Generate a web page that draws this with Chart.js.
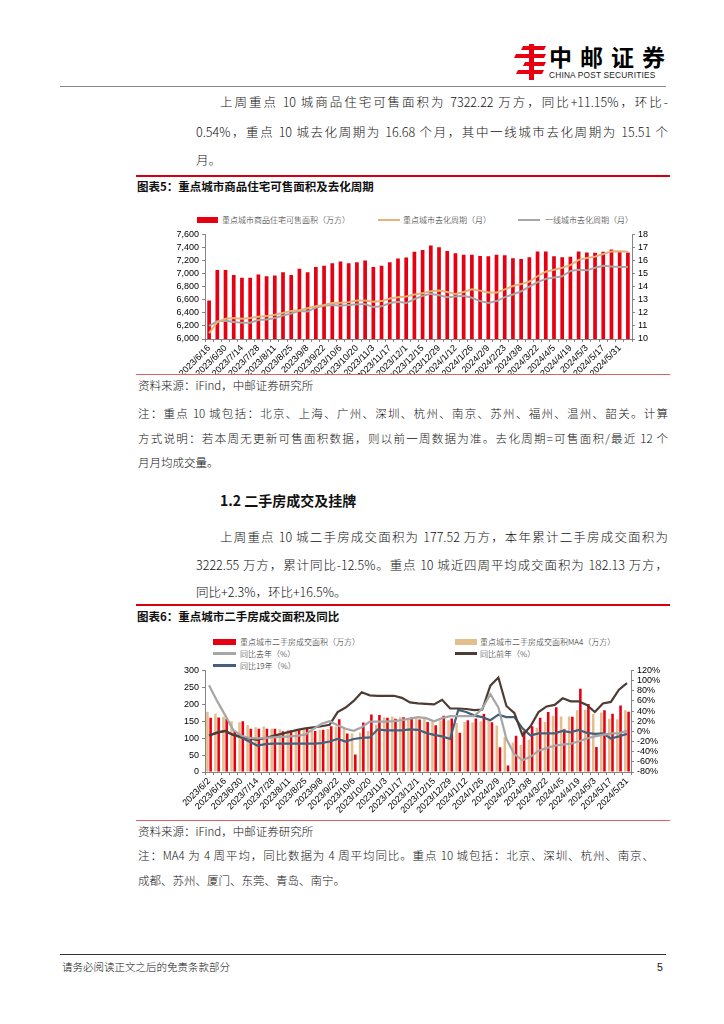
<!DOCTYPE html>
<html>
<head>
<meta charset="utf-8">
<script src="https://cdn.jsdelivr.net/npm/chart.js@4.4.1/dist/chart.umd.min.js"></script>
<style>
body { margin:0; width:724px; height:1024px; background:#fff; position:relative; overflow:hidden;
  font-family:"Noto Sans CJK SC","Noto Sans",sans-serif; color:#111; }
.t { position:absolute; white-space:nowrap; font-size:12.5px; line-height:18px; font-weight:300; }
.j { text-align:justify; text-align-last:justify; }
.num { font-family:"Liberation Sans","Noto Sans CJK SC",sans-serif; }
.hr { position:absolute; }
.lg { position:absolute; font-size:8px; line-height:10px; white-space:nowrap; color:#222; font-weight:300; }
.sw { position:absolute; }
canvas { position:absolute; }
</style>
</head>
<body>

<!-- header -->
<svg style="position:absolute;left:513px;top:44px" width="34" height="36" viewBox="0 0 34 36">
  <g fill="#e60012">
    <polygon points="10,2 33,2 31,6 8,6"/>
    <polygon points="3,10 33,10 31,14 1,14"/>
    <polygon points="12,18 33,18 31,22 10,22"/>
    <polygon points="5,26 31,26 29,30 3,30"/>
    <rect x="16" y="0" width="5" height="36"/>
  </g>
</svg>
<div class="t" style="left:549px;top:43px;font-size:23px;line-height:27px;font-weight:700;letter-spacing:8px;color:#000">中邮证券</div>
<div class="t" style="left:549px;top:70px;font-size:8.3px;line-height:10px;font-family:'Liberation Sans';font-weight:400;letter-spacing:0.2px;color:#222">CHINA POST SECURITIES</div>
<div class="hr" style="left:60px;top:86px;width:606px;height:1px;background:#888"></div>

<!-- paragraph 1 -->
<div class="t j" style="left:220px;top:93px;width:448px">上周重点 10 城商品住宅可售面积为 7322.22 万方，同比+11.15%，环比-</div>
<div class="t j" style="left:196px;top:123px;width:472px">0.54%，重点 10 城去化周期为 16.68 个月，其中一线城市去化周期为 15.51 个</div>
<div class="t" style="left:196px;top:151px">月。</div>

<!-- figure 5 -->
<div class="hr" style="left:136px;top:175px;width:534px;height:2px;background:#d7000f"></div>
<div class="t" style="left:137px;top:177px;font-size:11.5px;font-weight:700">图表5：重点城市商品住宅可售面积及去化周期</div>

<div class="sw" style="left:197px;top:217px;width:21px;height:6px;background:#e60012"></div>
<div class="lg" style="left:222px;top:215px">重点城市商品住宅可售面积（万方）</div>
<div class="sw" style="left:378px;top:219px;width:22px;height:2px;background:#e3b47a"></div>
<div class="lg" style="left:403px;top:215px">重点城市去化周期（月）</div>
<div class="sw" style="left:518px;top:219px;width:22px;height:2px;background:#a6a6a6"></div>
<div class="lg" style="left:545px;top:215px">一线城市去化周期（月）</div>

<canvas id="chart1" width="530" height="148" style="left:140px;top:226px;width:530px;height:148px"></canvas>

<div class="hr" style="left:136px;top:374px;width:534px;height:1px;background:#e06060"></div>
<div class="t" style="left:138px;top:376px;font-size:11.5px">资料来源：iFind，中邮证券研究所</div>
<div class="t j" style="left:138px;top:404px;width:530px;font-size:11.5px">注：重点 10 城包括：北京、上海、广州、深圳、杭州、南京、苏州、福州、温州、韶关。计算</div>
<div class="t j" style="left:138px;top:429px;width:530px;font-size:11.5px">方式说明：若本周无更新可售面积数据，则以前一周数据为准。去化周期=可售面积/最近 12 个</div>
<div class="t" style="left:138px;top:453px;font-size:11.5px">月月均成交量。</div>

<!-- section 1.2 -->
<div class="t" style="left:220px;top:490px;font-size:14px;line-height:20px;font-weight:700">1.2 二手房成交及挂牌</div>
<div class="t j" style="left:220px;top:528px;width:448px">上周重点 10 城二手房成交面积为 177.52 万方，本年累计二手房成交面积为</div>
<div class="t j" style="left:196px;top:556px;width:472px">3222.55 万方，累计同比-12.5%。重点 10 城近四周平均成交面积为 182.13 万方，</div>
<div class="t" style="left:196px;top:583px">同比+2.3%，环比+16.5%。</div>

<!-- figure 6 -->
<div class="hr" style="left:136px;top:604px;width:534px;height:2px;background:#d7000f"></div>
<div class="t" style="left:137px;top:607px;font-size:11.5px;font-weight:700">图表6：重点城市二手房成交面积及同比</div>

<div class="sw" style="left:213px;top:639px;width:23px;height:6px;background:#e60012"></div>
<div class="lg" style="left:240px;top:637px">重点城市二手房成交面积（万方）</div>
<div class="sw" style="left:455px;top:639px;width:22px;height:6px;background:#e3bf8e"></div>
<div class="lg" style="left:480px;top:637px">重点城市二手房成交面积MA4（万方）</div>
<div class="sw" style="left:213px;top:652px;width:23px;height:2.5px;background:#a6a6a6"></div>
<div class="lg" style="left:240px;top:649px">同比去年（%）</div>
<div class="sw" style="left:455px;top:652px;width:22px;height:2.5px;background:#4e3b33"></div>
<div class="lg" style="left:480px;top:649px">同比前年（%）</div>
<div class="sw" style="left:213px;top:664px;width:23px;height:2.5px;background:#44607a"></div>
<div class="lg" style="left:240px;top:661px">同比19年（%）</div>

<canvas id="chart2" width="530" height="155" style="left:140px;top:662px;width:530px;height:155px"></canvas>

<div class="hr" style="left:136px;top:820px;width:534px;height:1px;background:#e06060"></div>
<div class="t" style="left:138px;top:822px;font-size:11.5px">资料来源：iFind，中邮证券研究所</div>
<div class="t j" style="left:138px;top:846px;width:516px;font-size:11.5px">注：MA4 为 4 周平均，同比数据为 4 周平均同比。重点 10 城包括：北京、深圳、杭州、南京、</div>
<div class="t" style="left:138px;top:871px;font-size:11.5px">成都、苏州、厦门、东莞、青岛、南宁。</div>

<!-- footer -->
<div class="hr" style="left:60px;top:954px;width:606px;height:1px;background:#333"></div>
<div class="t" style="left:62px;top:958px;font-size:10.5px">请务必阅读正文之后的免责条款部分</div>
<div class="t num" style="left:657px;top:958px;font-size:10.5px;font-weight:400">5</div>

<script>
// 图表5 数据
const weeks5 = ['2023/6/16','2023/6/23','2023/6/30','2023/7/7','2023/7/14','2023/7/21','2023/7/28','2023/8/4',
  '2023/8/11','2023/8/18','2023/8/25','2023/9/1','2023/9/8','2023/9/15','2023/9/22','2023/9/29','2023/10/6',
  '2023/10/13','2023/10/20','2023/10/27','2023/11/3','2023/11/10','2023/11/17','2023/11/24','2023/12/1',
  '2023/12/8','2023/12/15','2023/12/22','2023/12/29','2024/1/5','2024/1/12','2024/1/19','2024/1/26','2024/2/2',
  '2024/2/9','2024/2/16','2024/2/23','2024/3/1','2024/3/8','2024/3/15','2024/3/22','2024/3/29','2024/4/5',
  '2024/4/12','2024/4/19','2024/4/26','2024/5/3','2024/5/10','2024/5/17','2024/5/24','2024/5/31','2024/6/7'];
const saleableArea = [6590,7055,7055,6980,6935,6935,6985,6960,6970,7020,6980,7075,7020,7100,7120,7160,7185,
  7160,7175,7200,7100,7120,7175,7230,7245,7335,7360,7430,7405,7345,7310,7290,7290,7270,7265,7290,7280,7235,
  7225,7250,7340,7340,7265,7250,7260,7340,7325,7320,7335,7370,7330,7322];
const keyCityCycle = [10.45,11.3,11.55,11.6,11.55,11.6,11.7,11.75,11.85,12.0,12.15,12.2,12.35,12.5,12.6,12.75,
  12.78,12.82,12.95,12.95,12.85,12.9,13.1,13.2,13.25,13.4,13.5,13.65,13.7,13.6,13.45,13.6,13.8,13.7,13.55,13.55,
  13.8,14.05,14.2,14.4,14.8,15.15,15.3,15.45,15.65,16.05,16.2,16.3,16.5,16.7,16.72,16.68];
const tier1Cycle = [11.0,11.35,11.4,11.3,11.25,11.25,11.45,11.5,11.6,11.8,11.95,12.15,12.1,12.4,12.55,12.6,
  12.55,12.6,12.65,12.65,12.45,12.5,12.75,12.85,12.75,13.05,13.3,13.45,13.35,13.2,13.25,13.3,13.15,12.9,12.75,
  12.9,13.2,13.4,13.65,14.0,14.35,14.6,14.7,14.8,15.2,15.3,15.25,15.45,15.6,15.55,15.5,15.51];

// 图表6 数据
const weeks6 = ['2023/6/2','2023/6/9'].concat(weeks5.slice(0, 51));
const resaleArea = [160,161,157,120,150,128,128,128,128,120,123,125,127,121,125,135,156,114,52,146,170,168,
  160,157,162,162,155,148,138,166,158,116,153,158,171,147,73,19,107,120,135,160,177,191,126,163,246,201,74,
  182,172,196,178];
const resaleMA4 = [178,172,163,150,147,139,132,134,128,126,125,124,124,124,125,127,134,133,114,117,121,140,
  161,164,162,160,159,157,151,152,153,145,148,146,150,157,137,103,87,80,95,131,148,166,164,164,182,184,171,
  176,157,156,182];
const yoyLastYear = [91,60,32,3,-8,-13,-14,-13,-12,-11,-10,-9,-6,5,15,20,12,5,1,8,19,19,19,20,22,25,28,26,
  20,26,30,30,30,30,45,73,47,-15,-45,-57,-50,-38,-33,-28,-26,-24,-20,-14,-10,-7,-4,-4,1];
const yoyTwoYears = [-8,-3,1,-7,-10,-14,-17,-13,-9,-5,-1,3,6,8,10,13,38,47,60,77,71,70,70,70,66,57,55,54,
  53,62,45,45,44,42,43,90,106,50,36,-8,10,38,49,52,65,59,59,52,38,55,58,82,95];
const yoy2019 = [-8,-2,1,-7,-12,-20,-28,-25,-24,-24,-24,-24,-24,-24,-23,-20,-15,-20,-15,-13,-12,4,2,2,2,4,
  3,-3,-7,-10,-15,42,38,31,28,22,33,28,28,6,-8,-4,-4,-4,1,-2,3,-3,-5,-4,-14,-10,-5];

Chart.defaults.font.family = '"Liberation Sans", Arial, sans-serif';
Chart.defaults.font.size = 9;
Chart.defaults.color = '#000';

function axisGrid() {
    return { display: true, drawOnChartArea: false, drawTicks: true, tickLength: 3, color: '#666', lineWidth: 0.8 };
}
function axisBorder() {
    return { display: true, color: '#666', width: 0.8 };
}
function everyOther(start) {
    return function (v, i) { return i % 2 === start ? this.getLabelForValue(v) : ''; };
}

new Chart(document.getElementById('chart1').getContext('2d'), {
    type: 'bar',
    data: {
        labels: weeks5,
        datasets: [
            { type: 'line', label: '重点城市去化周期（月）', data: keyCityCycle, yAxisID: 'y1',
              borderColor: '#e3b47a', borderWidth: 2, pointRadius: 0, tension: 0, order: 1 },
            { type: 'line', label: '一线城市去化周期（月）', data: tier1Cycle, yAxisID: 'y1',
              borderColor: '#a6a6a6', borderWidth: 2, pointRadius: 0, tension: 0, order: 1 },
            { label: '重点城市商品住宅可售面积（万方）', data: saleableArea, yAxisID: 'y',
              backgroundColor: '#e60012', barPercentage: 0.45, categoryPercentage: 1, order: 2 },
        ],
    },
    options: {
        responsive: false,
        animation: false,
        layout: { padding: { top: 6 } },
        plugins: { legend: { display: false }, tooltip: { enabled: false } },
        scales: {
            x: {
                grid: axisGrid(), border: axisBorder(),
                ticks: { autoSkip: false, minRotation: 45, maxRotation: 45, padding: 1, callback: everyOther(0) },
                afterFit: function (s) { s.height = 35; },
            },
            y: {
                position: 'left', min: 6000, max: 7600,
                grid: axisGrid(), border: axisBorder(),
                ticks: { stepSize: 200, autoSkip: false, padding: 3, callback: v => v.toLocaleString('en-US') },
                afterFit: function (s) { s.width = 65; },
            },
            y1: {
                position: 'right', min: 10, max: 18,
                grid: axisGrid(), border: axisBorder(),
                ticks: { stepSize: 1, autoSkip: false, padding: 3 },
                afterFit: function (s) { s.width = 38; },
            },
        },
    },
});

new Chart(document.getElementById('chart2').getContext('2d'), {
    type: 'bar',
    data: {
        labels: weeks6,
        datasets: [
            { type: 'line', label: '同比去年（%）', data: yoyLastYear, yAxisID: 'y1',
              borderColor: '#a6a6a6', borderWidth: 2.2, pointRadius: 0, tension: 0, order: 1 },
            { type: 'line', label: '同比前年（%）', data: yoyTwoYears, yAxisID: 'y1',
              borderColor: '#4e3b33', borderWidth: 2.2, pointRadius: 0, tension: 0, order: 1 },
            { type: 'line', label: '同比19年（%）', data: yoy2019, yAxisID: 'y1',
              borderColor: '#44607a', borderWidth: 2.2, pointRadius: 0, tension: 0, order: 1 },
            { label: '重点城市二手房成交面积MA4（万方）', data: resaleMA4, yAxisID: 'y',
              backgroundColor: '#e3bf8e', barPercentage: 0.8, categoryPercentage: 0.8, order: 2 },
            { label: '重点城市二手房成交面积（万方）', data: resaleArea, yAxisID: 'y',
              backgroundColor: '#e60012', barPercentage: 0.8, categoryPercentage: 0.8, order: 2 },
        ],
    },
    options: {
        responsive: false,
        animation: false,
        layout: { padding: { top: 5 } },
        plugins: { legend: { display: false }, tooltip: { enabled: false } },
        scales: {
            x: {
                grid: axisGrid(), border: axisBorder(),
                ticks: { autoSkip: false, minRotation: 45, maxRotation: 45, padding: 1, callback: everyOther(0) },
                afterFit: function (s) { s.height = 45; },
            },
            y: {
                position: 'left', min: 0, max: 300,
                grid: axisGrid(), border: axisBorder(),
                ticks: { stepSize: 50, autoSkip: false, padding: 3 },
                afterFit: function (s) { s.width = 65; },
            },
            y1: {
                position: 'right', min: -80, max: 120,
                grid: axisGrid(), border: axisBorder(),
                ticks: { stepSize: 20, autoSkip: false, padding: 3, callback: v => v + '%' },
                afterFit: function (s) { s.width = 39; },
            },
        },
    },
});
</script>
</body>
</html>
